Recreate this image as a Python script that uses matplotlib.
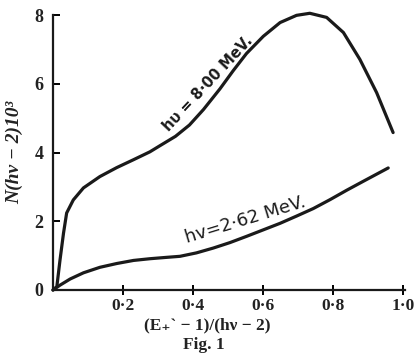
import matplotlib
matplotlib.use("Agg")
import matplotlib.pyplot as plt

# Data
x_800 = [0.0, 0.011, 0.02, 0.03, 0.039, 0.058, 0.087, 0.134, 0.182, 0.23, 0.277, 0.306, 0.35, 0.39,
         0.43, 0.477, 0.515, 0.553, 0.601, 0.649, 0.696, 0.734, 0.782, 0.83, 0.877, 0.925, 0.972]
y_800 = [0.0, 0.1, 0.87, 1.65, 2.24, 2.62, 2.97, 3.3, 3.56, 3.79, 4.02, 4.2, 4.47, 4.8,
         5.25, 5.85, 6.38, 6.88, 7.38, 7.78, 7.99, 8.05, 7.93, 7.49, 6.71, 5.74, 4.58]

x_262 = [0.0, 0.02, 0.049, 0.087, 0.134, 0.182, 0.23, 0.277, 0.325, 0.363, 0.41, 0.458,
         0.506, 0.553, 0.601, 0.649, 0.696, 0.744, 0.792, 0.839, 0.89, 0.958]
y_262 = [0.0, 0.14, 0.32, 0.5, 0.66, 0.77, 0.86, 0.91, 0.95, 0.98, 1.08, 1.22,
         1.38, 1.56, 1.75, 1.94, 2.15, 2.37, 2.63, 2.9, 3.18, 3.55]

xticks = [0.2, 0.4, 0.6, 0.8, 1.0]
xticklabels = ["0·2", "0·4", "0·6", "0·8", "1·0"]
yticks = [0, 2, 4, 6, 8]
yticklabels = ["0", "2", "4", "6", "8"]

serif = ["Liberation Serif", "DejaVu Serif"]
ink = "#1a1a1a"

fig = plt.figure(figsize=(4.19, 3.56), dpi=100)
ax = fig.add_axes([53/419, 1 - 290/356, 352/419, 275/356])

ax.plot(x_800, y_800, color=ink, lw=2.3, solid_capstyle="round", solid_joinstyle="round", clip_on=False)
ax.plot(x_262, y_262, color=ink, lw=2.3, solid_capstyle="round", solid_joinstyle="round", clip_on=False)

ax.set_xlim(0, 1.006)
ax.set_ylim(0, 8)
for s in ("top", "right"):
    ax.spines[s].set_visible(False)
for s in ("left", "bottom"):
    ax.spines[s].set_linewidth(1.6)
    ax.spines[s].set_color(ink)

ax.set_xticks(xticks)
ax.set_xticklabels(xticklabels, family=serif, fontsize=12.5, fontweight="bold", color="#222222")
ax.set_yticks(yticks)
ax.set_yticklabels(yticklabels, family=serif, fontsize=13, fontweight="bold", color="#222222")
ax.tick_params(axis="x", direction="inout", length=7, width=1.4, pad=2)
ax.tick_params(axis="y", direction="in", length=5, width=1.4, pad=7)

ax.set_ylabel("N(hν − 2)10³", family=serif, style="italic", fontsize=14, fontweight="bold",
              color="#222222", labelpad=8)
fig.text(207/419, 1 - 325/356, "(E₊ˋ − 1)/(hν − 2)", family=serif, fontsize=12.5,
         fontweight="bold", color="#222222", ha="center", va="center")
fig.text(204/419, 1 - 345/356, "Fig. 1", family=serif, fontsize=12.5, fontweight="bold",
         color="#222222", ha="center", va="center")

ax.text(0.443, 6.0, "hυ = 8·00 MeV.", rotation=47, rotation_mode="anchor", ha="center", va="center",
        fontsize=10.5, fontweight="bold", family=["DejaVu Sans"], color=ink)
ax.text(0.551, 2.04, "hv=2·62 MeV.", rotation=17, rotation_mode="anchor", ha="center", va="center",
        fontsize=13, family=["DejaVu Sans"], color=ink)

fig.savefig("out.png", dpi=100)
